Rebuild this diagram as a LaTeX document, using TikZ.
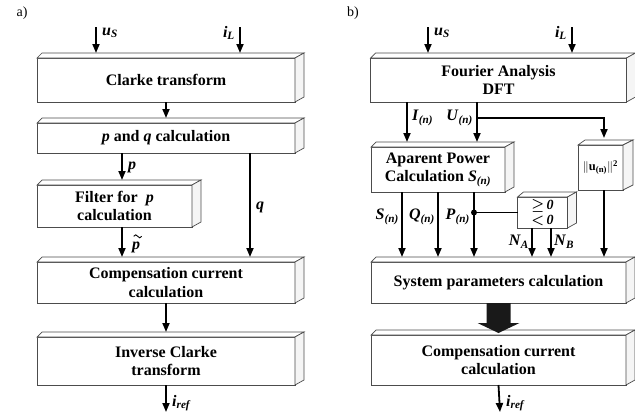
\documentclass[tikz,border=0pt]{standalone}
\usepackage{bm}
\usepackage{fontspec}
\setmainfont{Liberation Serif}
\usetikzlibrary{arrows.meta,calc}

% bold italic symbol with an optional subscript
\newcommand\symb[2]{\textbf{\textit{#1}}\textsubscript{\textbf{\textit{#2}}}}

\tikzset{
  slab/.style={draw=black!70, line width=0.7pt, fill=white, rectangle,
    inner sep=2pt, outer sep=0pt, align=center,
    font=\fontsize{16}{18.5}\selectfont\bfseries},
  face/.style={draw=black!70, line width=0.7pt, fill=white},
  sideface/.style={draw=black!70, line width=0.7pt, fill=black!4},
  flow/.style={line width=1.8pt, -{Triangle[length=9pt,width=7pt]}},
  wire/.style={line width=1.8pt},
  lbl/.style={inner sep=1pt, font=\fontsize{16}{18}\selectfont},
  panel/.style={inner sep=0pt, font=\fontsize{14}{16}\selectfont},
}

% top and right faces of a box, drawn behind it
\newcommand\boxfaces[3]{%
  \filldraw[face] (#1.north west) -- ++(#2,-5) -- ([shift={(#3,-5)}]#1.north east)
    -- (#1.north east) -- cycle;
  \filldraw[sideface] (#1.north east) -- ++(#3,-5) -- ([shift={(#3,-5)}]#1.south east)
    -- (#1.south east) -- cycle;
}

\begin{document}
\begin{tikzpicture}[x=1pt,y=-1pt]
\useasboundingbox (0,0) rectangle (635,416);

% ---------------- panel a ----------------
\node[panel] (la) at (22,13) {a)};

\node[slab, minimum width=258pt, minimum height=44pt] (clarke) at (166,80) {Clarke transform};
\node[slab, minimum width=258pt, minimum height=30pt] (pq) at (166,138) {\textit{p} and \textit{q} calculation};
\node[slab, minimum width=155pt, minimum height=42pt] (filt) at (114.5,206) {Filter for \ \textit{p}\\calculation};
\node[slab, minimum width=258pt, minimum height=41pt] (compa) at (166,282.5) {Compensation current\\calculation};
\node[slab, minimum width=258pt, minimum height=48pt] (invc) at (166,361) {Inverse Clarke\\transform};

\foreach \b in {clarke,pq,filt,compa,invc} {\boxfaces{\b}{5}{9}}

\coordinate (ain1) at (96,27);
\coordinate (ain2) at (240,27);
\coordinate (aout) at (166,412);
\coordinate (xp) at (122,0);
\coordinate (xq) at (250,0);

\draw[flow] (ain1) -- ([shift={(0,-5)}]ain1 |- clarke.north);
\draw[flow] (ain2) -- ([shift={(0,-5)}]ain2 |- clarke.north);
\draw[flow] (clarke.south) -- ([shift={(0,-5)}]pq.north);
\draw[flow] (xp |- pq.south) -- ([shift={(0,-5)}]xp |- filt.north);
\draw[flow] (xq |- pq.south) -- ([shift={(0,-5)}]xq |- compa.north);
\draw[flow] (xp |- filt.south) -- ([shift={(0,-5)}]xp |- compa.north);
\draw[flow] (compa.south) -- ([shift={(0,-5)}]invc.north);
\draw[flow] (invc.south) -- (aout);

\node[lbl, anchor=west] (lus) at (101,33) {\symb{u}{S}};
\node[lbl, anchor=east] (lil) at (236,33) {\symb{i}{L}};
\node[lbl, anchor=west] (lp) at (127,167) {\textbf{\textit{p}}};
\node[lbl, anchor=west] (lq) at (255,207) {\textbf{\textit{q}}};
\node[lbl, anchor=west] (lpt) at (131,247) {\textbf{\textit{p}}};
% wide tilde over the filtered p
\draw[line width=0.9pt] ([shift={(-2.5,-4)}]lpt.north) sin ++(2,-1.5) cos ++(2,1.5)
  sin ++(2,1.5) cos ++(2,-1.5);
\node[lbl, anchor=west] (lir) at (171,403) {\symb{i}{ref}};

% ---------------- panel b ----------------
\node[panel] (lb) at (353,13) {b)};

\node[slab, minimum width=256pt, minimum height=44pt] (four) at (498.5,80) {Fourier Analysis\\DFT};
\node[slab, minimum width=134pt, minimum height=45pt] (appw) at (438,169.5) {Aparent Power\\Calculation \symb{S}{(n)}};
\node[slab, minimum width=45pt, minimum height=45pt, inner sep=0pt, font=\fontsize{12.5}{14}\selectfont\bfseries] (norm) at (600.5,167.5) {$\|$u\textsubscript{(n)}$\|$\textsuperscript{2}};
\node[slab, minimum width=50pt, minimum height=31pt, font=\fontsize{14}{15}\selectfont\bfseries] (sgn) at (542.5,212.5) {$\bm{\geq}$\,\textit{0}\\$\bm{<}$\,\textit{0}};
\node[slab, minimum width=255pt, minimum height=41pt] (sys) at (498.5,282.5) {System parameters calculation};
\node[slab, minimum width=255pt, minimum height=50pt] (compb) at (498.5,360) {Compensation current\\calculation};

\foreach \b in {four,appw,sys,compb} {\boxfaces{\b}{5}{9}}
\boxfaces{norm}{7}{10}
\boxfaces{sgn}{6}{9}

\coordinate (bin1) at (428,27);
\coordinate (bin2) at (572,27);
\coordinate (bout) at (500,412);
\coordinate (xi) at (407,0);
\coordinate (xu) at (477,0);
\coordinate (xs) at (402,0);
\coordinate (xqq) at (438,0);
\coordinate (xpp) at (474,0);
\coordinate (xna) at (532,0);
\coordinate (xnb) at (551,0);
\coordinate (xnm) at (604,0);
\coordinate (ubr) at (477,118);
\coordinate (pdot) at (474,212.5);

\draw[flow] (bin1) -- ([shift={(0,-5)}]bin1 |- four.north);
\draw[flow] (bin2) -- ([shift={(0,-5)}]bin2 |- four.north);
\draw[flow] (xi |- four.south) -- ([shift={(0,-5)}]xi |- appw.north);
\draw[flow] (xu |- four.south) -- ([shift={(0,-5)}]xu |- appw.north);
\draw[flow] (ubr) -| ([shift={(0,-7)}]xnm |- norm.north);
\draw[flow] (xs |- appw.south) -- ([shift={(0,-5)}]xs |- sys.north);
\draw[flow] (xqq |- appw.south) -- ([shift={(0,-5)}]xqq |- sys.north);
\draw[flow] (xpp |- appw.south) -- ([shift={(0,-5)}]xpp |- sys.north);
\draw[wire] (pdot) -- (sgn.west);
\fill (pdot) circle (3pt);
\draw[flow] (xna |- sgn.south) -- ([shift={(0,-5)}]xna |- sys.north);
\draw[flow] (xnb |- sgn.south) -- ([shift={(0,-5)}]xnb |- sys.north);
\draw[flow] (xnm |- norm.south) -- ([shift={(0,-5)}]xnm |- sys.north);
\draw[flow] (compb.south) -- (bout);

% wide transfer arrow between the two lower boxes
\coordinate (fa) at (sys.south);
\fill[black!90] ($(fa)+(-12,0)$) -- ($(fa)+(12,0)$) -- ($(fa)+(12,20)$) -- ($(fa)+(21,20)$)
  -- ($(fa)+(0,30)$) -- ($(fa)+(-21,20)$) -- ($(fa)+(-12,20)$) -- cycle;

\node[lbl, anchor=west] (bus) at (433,33) {\symb{u}{S}};
\node[lbl, anchor=east] (bil) at (568,33) {\symb{i}{L}};
\node[lbl, anchor=west] (bin) at (411,118) {\symb{I}{(n)}};
\node[lbl, anchor=east] (bun) at (474,118) {\symb{U}{(n)}};
\node[lbl, anchor=east] (bsn) at (400,217) {\symb{S}{(n)}};
\node[lbl, anchor=east] (bqn) at (436,217) {\symb{Q}{(n)}};
\node[lbl, anchor=east] (bpn) at (471,217) {\symb{P}{(n)}};
\node[lbl, anchor=east] (bna) at (530,242) {\symb{N}{A}};
\node[lbl, anchor=west] (bnb) at (553,242) {\symb{N}{B}};
\node[lbl, anchor=west] (bir) at (505,403) {\symb{i}{ref}};
\end{tikzpicture}
\end{document}
